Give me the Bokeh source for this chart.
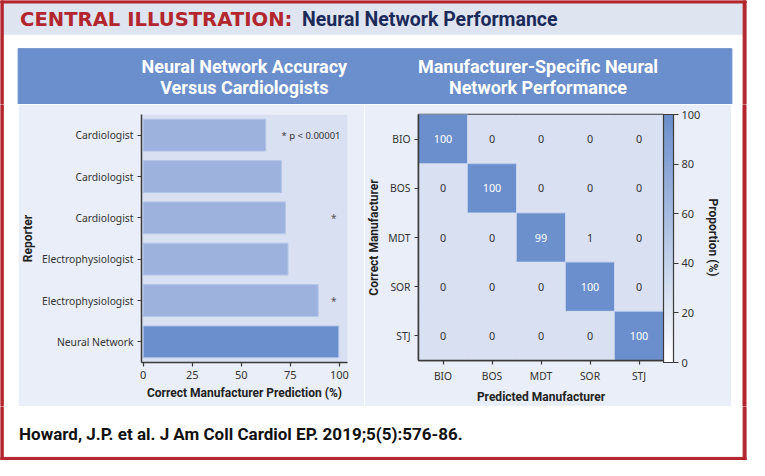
import numpy as np
from bokeh.plotting import figure
from bokeh.layouts import column, row
from bokeh.models import (ColumnDataSource, FactorRange, Range1d, LinearColorMapper,
                          ColorBar, FixedTicker, Title)
from bokeh.core.properties import value
from bokeh.embed import file_html
from bokeh.resources import INLINE

# ---------------- data ----------------
header_red = "CENTRAL ILLUSTRATION:"
header_navy = "Neural Network Performance"
left_title = ["Neural Network Accuracy", "Versus Cardiologists"]
right_title = ["Manufacturer-Specific Neural", "Network Performance"]
citation = "Howard, J.P. et al. J Am Coll Cardiol EP. 2019;5(5):576-86."
pvalue_note = "* p < 0.00001"

reporters = ["Cardiologist", "Cardiologist", "Cardiologist",
             "Electrophysiologist", "Electrophysiologist", "Neural Network"]
accuracy = [62.5, 70.5, 72.5, 73.8, 89.2, 99.7]
significant = ["", "", "*", "", "*", ""]
accuracy_ticks = [0, 25, 50, 75, 100]

manufacturers = ["BIO", "BOS", "MDT", "SOR", "STJ"]
confusion = [[100, 0, 0, 0, 0],
             [0, 100, 0, 0, 0],
             [0, 0, 99, 1, 0],
             [0, 0, 0, 100, 0],
             [0, 0, 0, 0, 100]]
proportion_ticks = [0, 20, 40, 60, 80, 100]

# ---------------- style ----------------
RED = "#b3262e"
NAVY = "#1c2a5a"
HEAD_BG = "#dfe4f1"
BAND = "#6b8fcc"
PANEL = "#e9eef8"
PLOT_BG = "#d9e0f1"
HUMAN = "#9db3de"
NN = "#6b8fcc"
AX = "#3a3a3a"
TXT = "#333333"
TICK_FONT = value("Noto Sans")
BOLD_FONT = "Roboto"

W, H = 749, 460
SX, SY = W / 765.0, H / 476.0


def deco(width, height, x0, x1, y0, y1):
    p = figure(width=width, height=height, x_range=Range1d(x0, x1), y_range=Range1d(y1, y0),
               x_axis_type=None, y_axis_type=None, output_backend="svg", toolbar_location=None,
               min_border=0, outline_line_color=None, background_fill_color="white",
               border_fill_color="white", frame_align=False)
    p.xgrid.visible = False
    p.ygrid.visible = False
    return p


# ---------------- top decoration ----------------
top_h = round(108 * SY)
top = deco(W, top_h, 0, 765, 0, 108)
top.quad(left=2.6, right=759, top=2.6, bottom=35, color=HEAD_BG)
top.quad(left=18, right=747, top=50, bottom=108, color=BAND)
top.quad(left=0, right=2.8, top=0, bottom=108, color=RED)
top.quad(left=758.5, right=761.5, top=0, bottom=108, color=RED)
top.quad(left=0, right=761.5, top=0, bottom=2.6, color=RED)
top.text(x=[20], y=[19.5], text=[header_red], text_font=value("DejaVu Sans"),
         text_font_style="bold", text_font_size="19.6px", text_color=RED,
         text_baseline="middle", text_align="left")
top.text(x=[308], y=[19.5], text=[header_navy], text_font=value(BOLD_FONT),
         text_font_style="bold", text_font_size="19.5px", text_color=NAVY,
         text_baseline="middle", text_align="left")
for cx, lines in ((249, left_title), (549, right_title)):
    top.text(x=[cx, cx], y=[68.5, 90.5], text=lines, text_font=value(BOLD_FONT),
             text_font_style="bold", text_font_size="18px", text_color="white",
             text_baseline="middle", text_align="center")

# ---------------- middle row ----------------
mid_h = round(420 * SY) - top_h
lm_w = round(18 * SX)
bar_w = round(372 * SX) - lm_w
heat_w = round(747 * SX) - round(372 * SX)
rm_w = W - lm_w - bar_w - heat_w

lm = deco(lm_w, mid_h, 0, 18, 108, 420)
lm.quad(left=0, right=2.8, top=108, bottom=420, color=RED)
rm = deco(rm_w, mid_h, 747, 765, 108, 420)
rm.quad(left=758.5, right=761.5, top=108, bottom=420, color=RED)

frame_top = round(118 * SY) - top_h
frame_bottom = mid_h - (round(375 * SY) - top_h)


def style_axes(p, num_axis):
    for ax in (p.xaxis[0], p.yaxis[0]):
        ax.axis_line_color = AX
        ax.axis_line_width = 1.5
        ax.major_tick_line_color = AX
        ax.major_tick_line_width = 1.2
        ax.major_tick_in = 0
        ax.major_tick_out = 4
        ax.minor_tick_line_color = None
        ax.major_label_text_font = "Noto Sans"
        ax.major_label_text_font_size = "10.3px"
        ax.major_label_text_color = TXT
        ax.axis_label_text_font = BOLD_FONT
        ax.axis_label_text_font_style = "bold"
        ax.axis_label_text_font_size = "12px"
        ax.axis_label_text_color = "#222222"
        ax.major_label_standoff = 4
        ax.axis_label_standoff = 4
    if num_axis is not None:
        num_axis.major_label_text_font_size = "11px"
    p.xgrid.visible = False
    p.ygrid.visible = False


# bar chart
ys = list(range(len(reporters) - 1, -1, -1))
bar_src = ColumnDataSource(dict(
    y=ys, acc=accuracy, reporter=reporters,
    color=[NN if r == "Neural Network" else HUMAN for r in reporters]))
sig_src = ColumnDataSource(dict(
    y=[y for y, s in zip(ys, significant) if s],
    s=[s for s in significant if s]))

bar_left = round(144 * SX) - lm_w
bar_right = lm_w + bar_w - round(354 * SX)
bar = figure(width=bar_w, height=mid_h, x_range=Range1d(-0.85, 104.15),
             y_range=Range1d(-0.5, 5.5), output_backend="svg", toolbar_location=None,
             min_border_left=bar_left, min_border_right=bar_right,
             min_border_top=frame_top, min_border_bottom=frame_bottom,
             background_fill_color=PLOT_BG, border_fill_color=PANEL,
             outline_line_color=None, frame_align=False)
bar.hbar(y="y", left=0, right="acc", height=0.77, source=bar_src,
         fill_color="color", line_color="#b3c5e8", line_width=1)
bar.text(x=97.2, y="y", text="s", source=sig_src, text_font=TICK_FONT,
         text_font_size="10px", text_color="#555555", text_align="center",
         text_baseline="middle")
bar.text(x=[70.5], y=[5], text=[pvalue_note], text_font=TICK_FONT,
         text_font_size="9.5px", text_color=TXT, text_align="left",
         text_baseline="middle")
style_axes(bar, bar.xaxis[0])
bar.xaxis.ticker = FixedTicker(ticks=accuracy_ticks)
bar.yaxis.ticker = FixedTicker(ticks=ys)
bar.yaxis.major_label_overrides = {y: r for y, r in zip(ys, reporters)}
bar.xaxis.axis_label = "Correct Manufacturer Prediction (%)"
bar.yaxis.axis_label = "Reporter"

# heatmap
cells_x, cells_y, cells_v = [], [], []
for i, true_m in enumerate(manufacturers):
    for j, pred_m in enumerate(manufacturers):
        cells_x.append(pred_m)
        cells_y.append(true_m)
        cells_v.append(confusion[i][j])
heat_src = ColumnDataSource(dict(
    x=cells_x, y=cells_y, v=cells_v, label=[str(v) for v in cells_v],
    tcolor=["white" if v > 50 else TXT for v in cells_v],
    edge=[1.0 if v > 50 else 0.0 for v in cells_v]))


def hex2rgb(h):
    return np.array([int(h[i:i + 2], 16) for i in (1, 3, 5)], dtype=float)


lo, hi = hex2rgb("#ffffff"), hex2rgb(BAND)
palette = ["#%02x%02x%02x" % tuple(int(round(c)) for c in lo + (hi - lo) * t)
           for t in np.linspace(0, 1, 256)]
bar_mapper = LinearColorMapper(palette=palette, low=0, high=100)
cell_mapper = LinearColorMapper(palette=palette, low=5, high=100, low_color=PLOT_BG)

heat_left = round(421 * SX) - round(372 * SX)
heat_right = round(747 * SX) - round(677 * SX)
heat = figure(width=heat_w, height=mid_h, x_range=FactorRange(*manufacturers),
              y_range=FactorRange(*reversed(manufacturers)), output_backend="svg",
              toolbar_location=None, min_border_left=heat_left, min_border_right=heat_right,
              min_border_top=frame_top, min_border_bottom=frame_bottom,
              background_fill_color=PLOT_BG, border_fill_color=PANEL,
              outline_line_color=AX, outline_line_width=1.5, frame_align=False)
heat.rect(x="x", y="y", width=1, height=1, source=heat_src,
          fill_color={"field": "v", "transform": cell_mapper},
          line_color="#b9c9ea", line_alpha="edge", line_width=1)
heat.text(x="x", y="y", text="label", source=heat_src, text_font=TICK_FONT,
          text_font_size="10.8px", text_color="tcolor", text_align="center",
          text_baseline="middle")
style_axes(heat, None)
heat.xaxis.axis_label = "Predicted Manufacturer"
heat.yaxis.axis_label = "Correct Manufacturer"
heat.x_range.range_padding = 0
heat.y_range.range_padding = 0

cb = ColorBar(color_mapper=bar_mapper, ticker=FixedTicker(ticks=proportion_ticks),
              width=10, height=mid_h - frame_top - frame_bottom,
              major_tick_in=0, major_tick_out=5, major_tick_line_color=AX,
              major_tick_line_width=1.2, bar_line_color=AX, bar_line_width=1.2,
              background_fill_alpha=0, border_line_color=None,
              label_standoff=3, major_label_text_font="Noto Sans",
              major_label_text_font_size="11px", major_label_text_color=TXT,
              padding=0, margin=7)
heat.add_layout(cb, "right")
heat.add_layout(Title(text="Proportion (%)", align="center", text_font=BOLD_FONT,
                      text_font_style="bold", text_font_size="12px",
                      text_color="#222222", standoff=4), "right")

# ---------------- bottom decoration ----------------
bot_h = H - top_h - mid_h
bot = deco(W, bot_h, 0, 765, 420, 476)
bot.quad(left=0, right=2.8, top=420, bottom=476, color=RED)
bot.quad(left=758.5, right=761.5, top=420, bottom=476, color=RED)
bot.quad(left=0, right=761.5, top=472.8, bottom=476, color=RED)
bot.text(x=[19], y=[448.5], text=[citation], text_font=value(BOLD_FONT),
         text_font_style="bold", text_font_size="17px", text_color="#111111",
         text_baseline="middle", text_align="left")

layout = column(top, row(lm, bar, heat, rm, spacing=0), bot, spacing=0)
open("out.html", "w").write(file_html(layout, INLINE))
